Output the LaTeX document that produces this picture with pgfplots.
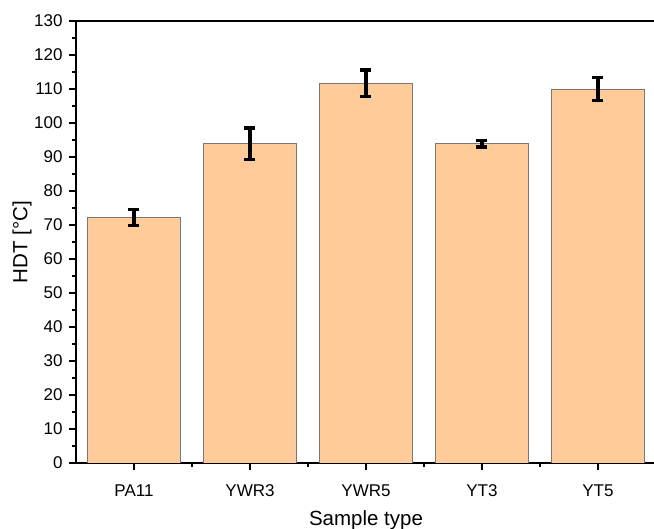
\documentclass[border=0pt]{standalone}
\usepackage{pgfplots}
\pgfplotsset{compat=1.18}
\usepackage{fontspec}
\setmainfont{Liberation Sans}
\definecolor{barfill}{RGB}{255,204,153}
\definecolor{baredge}{RGB}{120,120,120}
\begin{document}
\begin{tikzpicture}
\begin{axis}[
  scale only axis, width=580pt, height=442pt,
  xmin=-0.5, xmax=4.5, ymin=0, ymax=130,
  axis y line*=left,
  axis line style={-, line width=1.3pt},
  ytick={0,10,...,130}, minor ytick={5,15,...,125},
  xtick={0,1,2,3,4}, xticklabels={PA11,YWR3,YWR5,YT3,YT5},
  minor xtick={0.5,1.5,2.5,3.5},
  xtick pos=bottom,
  tick align=outside,
  major tick length=7pt, minor tick length=4pt,
  every tick/.style={black, line width=1.2pt},
  /pgf/number format/assume math mode=true,
  tick label style={font=\fontsize{17}{19}\selectfont},
  xticklabel style={yshift=-11pt},
  yticklabel style={xshift=-3pt},
  label style={font=\fontsize{20.5}{24}\selectfont},
  xlabel={Sample type},
  ylabel={HDT [°C]},
  xlabel style={at={(axis description cs:0.5,0)}, anchor=base, yshift=-63pt},
  ylabel style={at={(axis description cs:-0.0931,0.5)}, anchor=center},
  ybar, bar width=0.8,
]
\addplot[fill=barfill, draw=baredge, line width=0.8pt,
  error bars/.cd, y dir=both, y explicit,
  error bar style={line width=3.3pt, black},
  error mark options={rotate=90, mark size=5.5pt, line width=3.3pt, black}]
  table[x=x, y=y, y error=e] {
x y e
0 72.2 2.3
1 93.9 4.6
2 111.7 3.9
3 93.9 1.0
4 110.0 3.4
};
\end{axis}
\pgfresetboundingbox
\path[use as bounding box] (-76pt,-66pt) rectangle (578pt,463pt);
\end{tikzpicture}
\end{document}
